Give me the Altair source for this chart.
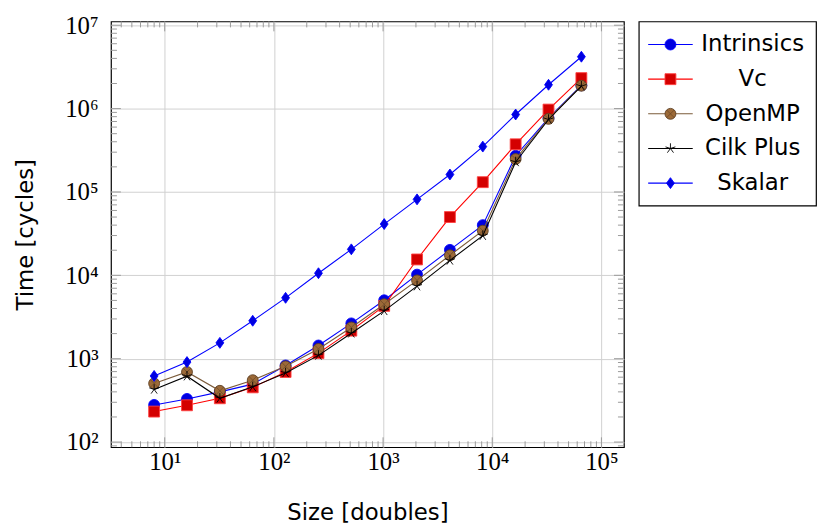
import altair as alt
import pandas as pd

sizes = [8, 16, 32, 64, 128, 256, 512, 1024, 2048, 4096, 8192, 16384, 32768, 65536]
intrinsics = [279, 329, 400, 495, 830, 1440, 2650, 5020, 10200, 20200, 40000, 272000, 770000, 1900000]
vc = [232, 276, 335, 453, 693, 1165, 2170, 4300, 15500, 50000, 131000, 373000, 973000, 2320000]
openmp = [505, 693, 412, 552, 810, 1310, 2370, 4500, 8700, 17400, 34300, 248000, 753000, 1880000]
cilk = [428, 617, 335, 460, 675, 1095, 2020, 3750, 7420, 15100, 29900, 229000, 740000, 1860000]
skalar = [621, 911, 1549, 2850, 5370, 10600, 20500, 41200, 81500, 162000, 350000, 849000, 1930000, 4190000]

series_names = ["Intrinsics", "Vc", "OpenMP", "Cilk Plus", "Skalar"]
series_values = [intrinsics, vc, openmp, cilk, skalar]

x_major = [10, 100, 1000, 10000, 100000]
y_major = [100, 1000, 10000, 100000, 1000000, 10000000]

STAR = "M0,0L0,-1M0,0L0.951,-0.309M0,0L0.588,0.809M0,0L-0.588,0.809M0,0L-0.951,-0.309"
DIAMOND = "M0,-1L0.72,0L0,1L-0.72,0Z"
XCROSS = "M-0.7,-0.7L0.7,0.7M-0.7,0.7L0.7,-0.7"

styles = {
    "Intrinsics": dict(line="#0000ff", shape="circle", fill="#0000e0", stroke="#0000ff", filled=True, size=121),
    "Vc": dict(line="#ff0000", shape="square", fill="#d40000", stroke="#ff4040", filled=True, size=121),
    "OpenMP": dict(line="#7b5b3a", shape="circle", fill="#9c6a38", stroke="#5e4024", filled=True, size=121),
    "Cilk Plus": dict(line="#000000", shape=STAR, fill="transparent", stroke="#000000", filled=False, size=110),
    "Skalar": dict(line="#0000ff", shape=DIAMOND, fill="#0000e0", stroke="#0000ff", filled=True, size=121),
}

SANS = "DejaVu Sans"
SERIF = "Liberation Serif"
W, H = 518, 430
TICK = "#9a9a9a"
GRID = "#d0d0d0"
MAJ, MIN = 10, 6

xdom = [3.22, 160700]
ydom = [86.7, 11100000]
xscale = alt.Scale(type="log", domain=xdom, nice=False)
yscale = alt.Scale(type="log", domain=ydom, nice=False)

rows = []
for name, vals in zip(series_names, series_values):
    for s, v in zip(sizes, vals):
        rows.append({"series": name, "size": s, "time": v})
df = pd.DataFrame(rows)

x_minor = [k * 10 ** e for e in range(0, 6) for k in range(2, 10) if xdom[0] <= k * 10 ** e <= xdom[1]]
y_minor = [k * 10 ** e for e in range(1, 8) for k in range(2, 10) if ydom[0] <= k * 10 ** e <= ydom[1]]
x_maj_df = pd.DataFrame({"size": x_major})
x_min_df = pd.DataFrame({"size": x_minor})
y_maj_df = pd.DataFrame({"time": y_major})
y_min_df = pd.DataFrame({"time": y_minor})

sup = "['⁰','¹','²','³','⁴','⁵','⁶','⁷']"
label_expr = "'10' + " + sup + "[round(log(datum.value)/LN10)]"

xaxis = alt.Axis(
    values=x_major, labelExpr=label_expr, grid=True, gridColor=GRID, gridWidth=1,
    ticks=False, domain=False, labelFont=SERIF, labelFontSize=25, labelColor="black",
    labelPadding=3, titleFont=SANS, titleFontSize=23,
    titleFontWeight="normal", titleColor="black", titlePadding=27, labelFlush=False)
yaxis = alt.Axis(
    values=y_major, labelExpr=label_expr, grid=True, gridColor=GRID, gridWidth=1,
    ticks=False, domain=False, labelFont=SERIF, labelFontSize=25, labelColor="black",
    labelPadding=13, titleFont=SANS, titleFontSize=23,
    titleFontWeight="normal", titleColor="black", titlePadding=28, labelFlush=False)
XE = alt.X("size:Q", scale=xscale, axis=xaxis, title="Size [doubles]")
YE = alt.Y("time:Q", scale=yscale, axis=yaxis, title="Time [cycles]")


def xticks(data, ln):
    bottom = alt.Chart(data).mark_rule(color=TICK, strokeWidth=1).encode(
        x=XE, y=alt.value(H), y2=alt.value(H - ln))
    top = alt.Chart(data).mark_rule(color=TICK, strokeWidth=1).encode(
        x=XE, y=alt.value(0), y2=alt.value(ln))
    return [bottom, top]


def yticks(data, ln):
    left = alt.Chart(data).mark_rule(color=TICK, strokeWidth=1).encode(
        y=YE, x=alt.value(0), x2=alt.value(ln))
    right = alt.Chart(data).mark_rule(color=TICK, strokeWidth=1).encode(
        y=YE, x=alt.value(W), x2=alt.value(W - ln))
    return [left, right]


tick_layers = xticks(x_min_df, MIN) + xticks(x_maj_df, MAJ) + yticks(y_min_df, MIN) + yticks(y_maj_df, MAJ)

series_layers = []
for name in series_names:
    st = styles[name]
    base = alt.Chart(df).transform_filter(alt.datum.series == name)
    line = base.mark_line(color=st["line"], strokeWidth=1.1).encode(x=XE, y=YE)
    pts = base.mark_point(shape=st["shape"], size=st["size"], filled=st["filled"], fill=st["fill"],
                          stroke=st["stroke"], strokeWidth=0.9, opacity=1).encode(x=XE, y=YE)
    series_layers += [line, pts]
    if name == "OpenMP":
        series_layers.append(base.mark_point(shape=XCROSS, size=121, filled=False, stroke="#5e4024",
                                             strokeWidth=0.6, opacity=1).encode(x=XE, y=YE))

main = alt.layer(*tick_layers, *series_layers).properties(width=W, height=H)

# custom legend
leg_df = pd.DataFrame({"name": series_names, "idx": list(range(len(series_names)))})
lscale = alt.Scale(domain=[-0.666, 4.649], reverse=True, nice=False, zero=False)
leg_layers = []
for name in series_names:
    st = styles[name]
    b = alt.Chart(leg_df).transform_filter(alt.datum.name == name)
    yenc = alt.Y("idx:Q", scale=lscale, axis=None)
    leg_layers.append(b.mark_rule(color=st["line"], strokeWidth=1.1).encode(
        x=alt.value(9.5), x2=alt.value(54.5), y=yenc))
    leg_layers.append(b.mark_point(shape=st["shape"], size=st["size"], filled=st["filled"], fill=st["fill"],
                                   stroke=st["stroke"], strokeWidth=0.9, opacity=1).encode(
        x=alt.value(32), y=yenc))
    if name == "OpenMP":
        leg_layers.append(b.mark_point(shape=XCROSS, size=121, filled=False, stroke="#5e4024",
                                       strokeWidth=0.6, opacity=1).encode(x=alt.value(32), y=yenc))
leg_layers.append(alt.Chart(leg_df).mark_text(font=SANS, fontSize=23, align="center", baseline="middle",
                                              color="black").encode(
    x=alt.value(115), y=alt.Y("idx:Q", scale=lscale, axis=None), text="name:N"))
legend = alt.layer(*leg_layers).properties(width=179, height=186)

chart = alt.hconcat(main, legend, spacing=15, bounds="flush").properties(
    padding={"left": 5, "top": 2, "right": 0, "bottom": 0}, background="white"
).configure_view(stroke="black", strokeWidth=1.2)

chart.save("out.html", embed_options={"renderer": "svg", "actions": False})
